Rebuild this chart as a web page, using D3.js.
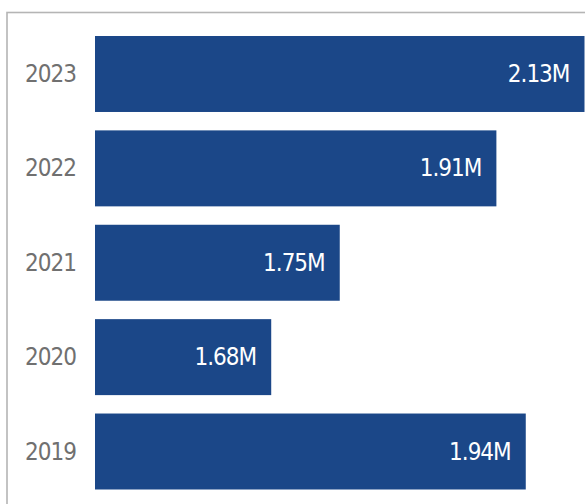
<!DOCTYPE html>
<html><head><meta charset="utf-8">
<script src="https://cdn.jsdelivr.net/npm/d3@7"></script>
<style>html,body{margin:0;padding:0;background:#fff;overflow:hidden}</style>
</head><body>
<svg id="c" width="585" height="504"></svg>
<script>
const years = ["2023","2022","2021","2020","2019"];
const values = [2.13, 1.91, 1.75, 1.68, 1.94];
const valueLabels = ["2.13M","1.91M","1.75M","1.68M","1.94M"];
const axisDomain = [1.5, 2.0];

const svg = d3.select("#c");
const font = "'DejaVu Sans Condensed','DejaVu Sans',sans-serif";

// frame
svg.append("rect").attr("x",7).attr("y",12.5).attr("width",700).attr("height",600)
  .attr("fill","none").attr("stroke","#b5b5b5").attr("stroke-width",1.6);

const x = d3.scaleLinear().domain(axisDomain).range([95, 584.5]).clamp(true);
const y = d3.scaleBand().domain(years).range([26.8, 498.7]).paddingInner(0.195).paddingOuter(0.0975);

const data = years.map((yr,i)=>({yr, v:values[i], lab:valueLabels[i]}));

svg.selectAll("rect.bar").data(data).join("rect").attr("class","bar")
  .attr("x", x(axisDomain[0])).attr("y", d=>y(d.yr))
  .attr("width", d=>x(d.v)-x(axisDomain[0])).attr("height", y.bandwidth())
  .attr("fill","#1b4788");

svg.selectAll("text.val").data(data).join("text").attr("class","val")
  .attr("x", d=>x(d.v)-15).attr("y", d=>y(d.yr)+y.bandwidth()/2)
  .attr("text-anchor","end").attr("dominant-baseline","central")
  .attr("font-family",font).attr("font-size",24).attr("letter-spacing","-1px").attr("fill","#ffffff")
  .text(d=>d.lab);

const yAxis = d3.axisLeft(y).tickSize(0).tickPadding(0);
const ga = svg.append("g").attr("transform","translate(76,0)").call(yAxis);
ga.select(".domain").remove();
ga.selectAll("text").attr("font-family",font).attr("font-size",24).attr("letter-spacing","-1px").attr("fill","#707070")
  .attr("dy",null).attr("dominant-baseline","central");
</script>
</body></html>
